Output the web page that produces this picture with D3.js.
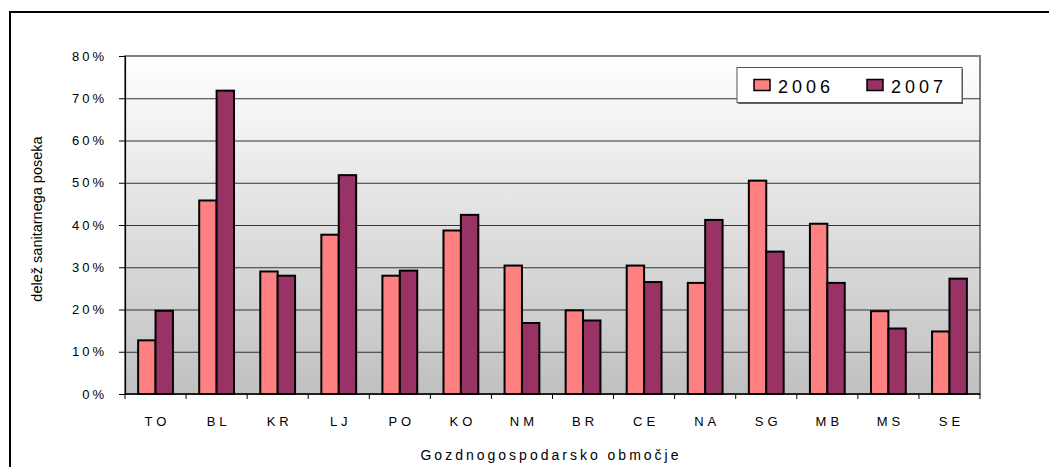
<!DOCTYPE html>
<html>
<head>
<meta charset="utf-8">
<script src="https://cdn.jsdelivr.net/npm/d3@7"></script>
<style>
  body { margin: 0; background: #fff; }
  svg { display: block; font-family: "Liberation Sans", Arial, sans-serif; }
</style>
</head>
<body>
<svg width="1049" height="467"></svg>
<script>
// data
var categories = ['TO', 'BL', 'KR', 'LJ', 'PO', 'KO', 'NM', 'BR', 'CE', 'NA', 'SG', 'MB', 'MS', 'SE'];
var years = ['2006', '2007'];
var values2006 = [12.7, 45.8, 29.0, 37.7, 28.0, 38.7, 30.4, 19.8, 30.4, 26.3, 50.5, 40.3, 19.6, 14.8];
var values2007 = [19.7, 71.8, 28.0, 51.8, 29.2, 42.4, 16.8, 17.4, 26.5, 41.2, 33.7, 26.3, 15.5, 27.3];
var yTicks = [0, 10, 20, 30, 40, 50, 60, 70, 80];
var colors = ['#ff8080', '#993366'];

var svg = d3.select('svg');

// plot box (window.top is reserved, so no plain "top")
var plotLeft = 125, plotRight = 980, plotTop = 56, plotBottom = 394;

var x0 = d3.scaleBand()
    .domain(categories)
    .range([plotLeft, plotRight])
    .paddingInner(0.43)
    .paddingOuter(0.215);

var x1 = d3.scaleBand()
    .domain(years)
    .range([0, x0.bandwidth()]);

var y = d3.scaleLinear()
    .domain([0, 80])
    .range([plotBottom, plotTop]);

// outer chart border
svg.append('rect')
    .attr('x', 10)
    .attr('y', 12)
    .attr('width', 1100)
    .attr('height', 500)
    .style('fill', 'none')
    .style('stroke', 'black')
    .style('stroke-width', 2);

// plot background gradient
var grad = svg.append('defs').append('linearGradient')
    .attr('id', 'bg')
    .attr('x1', 0).attr('y1', 0)
    .attr('x2', 0).attr('y2', 1);
grad.append('stop').attr('offset', '0%').attr('stop-color', '#ffffff');
grad.append('stop').attr('offset', '100%').attr('stop-color', '#c0c0c0');

svg.append('rect')
    .attr('x', plotLeft)
    .attr('y', plotTop)
    .attr('width', plotRight - plotLeft)
    .attr('height', plotBottom - plotTop)
    .style('fill', 'url(#bg)')
    .style('stroke', '#808080')
    .style('stroke-width', 2);

// gridlines
svg.append('g')
    .selectAll('line')
    .data(yTicks.filter(function(d) { return d > 0 && d < 80; }))
    .join('line')
    .attr('x1', plotLeft)
    .attr('x2', plotRight)
    .attr('y1', function(d) { return y(d) + 0.5; })
    .attr('y2', function(d) { return y(d) + 0.5; })
    .style('stroke', '#333')
    .style('stroke-width', 1.2);

// y axis
var yAxis = svg.append('g')
    .attr('transform', 'translate(' + plotLeft + ',0)')
    .call(d3.axisLeft(y)
        .tickValues(yTicks)
        .tickSize(6)
        .tickPadding(12)
        .tickFormat(function(d) { return d + '%'; }));
yAxis.select('.domain').style('stroke', '#000').style('stroke-width', 1.2);
yAxis.selectAll('.tick line').style('stroke', '#000');
yAxis.selectAll('text')
    .style('font-size', '13px')
    .style('letter-spacing', '3px')
    .style('fill', '#000');

// bars
var groups = svg.append('g')
    .selectAll('g')
    .data(categories)
    .join('g')
    .attr('transform', function(d) { return 'translate(' + x0(d) + ',0)'; });

groups.selectAll('rect')
    .data(function(d, i) {
        return [
            { year: '2006', value: values2006[i] },
            { year: '2007', value: values2007[i] }
        ];
    })
    .join('rect')
    .attr('x', function(d) { return x1(d.year); })
    .attr('y', function(d) { return y(d.value); })
    .attr('width', x1.bandwidth())
    .attr('height', function(d) { return y(0) - y(d.value); })
    .style('fill', function(d) { return colors[years.indexOf(d.year)]; })
    .style('stroke', 'black')
    .style('stroke-width', 2);

// x axis
svg.append('line')
    .attr('x1', plotLeft).attr('x2', plotRight)
    .attr('y1', plotBottom).attr('y2', plotBottom)
    .style('stroke', '#000')
    .style('stroke-width', 1.5);

var step = x0.step();
svg.append('g')
    .selectAll('line')
    .data(d3.range(categories.length + 1))
    .join('line')
    .attr('x1', function(i) { return plotLeft + i * step; })
    .attr('x2', function(i) { return plotLeft + i * step; })
    .attr('y1', plotBottom)
    .attr('y2', plotBottom + 5)
    .style('stroke', '#000');

svg.append('g')
    .selectAll('text')
    .data(categories)
    .join('text')
    .attr('x', function(d) { return x0(d) + x0.bandwidth() / 2 + 2; })
    .attr('y', 426)
    .attr('text-anchor', 'middle')
    .style('font-size', '13px')
    .style('letter-spacing', '4px')
    .text(function(d) { return d; });

// axis titles
svg.append('text')
    .attr('transform', 'translate(42,219) rotate(-90)')
    .attr('text-anchor', 'middle')
    .style('font-size', '14.5px')
    .text('delež sanitarnega poseka');

svg.append('text')
    .attr('x', 551)
    .attr('y', 460)
    .attr('text-anchor', 'middle')
    .style('font-size', '14px')
    .style('letter-spacing', '3px')
    .text('Gozdnogospodarsko območje');

// legend
var legend = svg.append('g');
legend.append('rect')
    .attr('x', 738)
    .attr('y', 69)
    .attr('width', 225)
    .attr('height', 35)
    .style('fill', '#606060');
legend.append('rect')
    .attr('x', 737)
    .attr('y', 67.5)
    .attr('width', 225)
    .attr('height', 35)
    .style('fill', 'white')
    .style('stroke', '#555')
    .style('stroke-width', 1);

var legendX = [754, 867];
years.forEach(function(yr, i) {
    legend.append('rect')
        .attr('x', legendX[i])
        .attr('y', 79.5)
        .attr('width', 16)
        .attr('height', 11)
        .style('fill', colors[i])
        .style('stroke', 'black')
        .style('stroke-width', 1.5);
    legend.append('text')
        .attr('x', legendX[i] + 24)
        .attr('y', 92.5)
        .style('font-size', '18px')
        .style('letter-spacing', '4px')
        .text(yr);
});
</script>
</body>
</html>
